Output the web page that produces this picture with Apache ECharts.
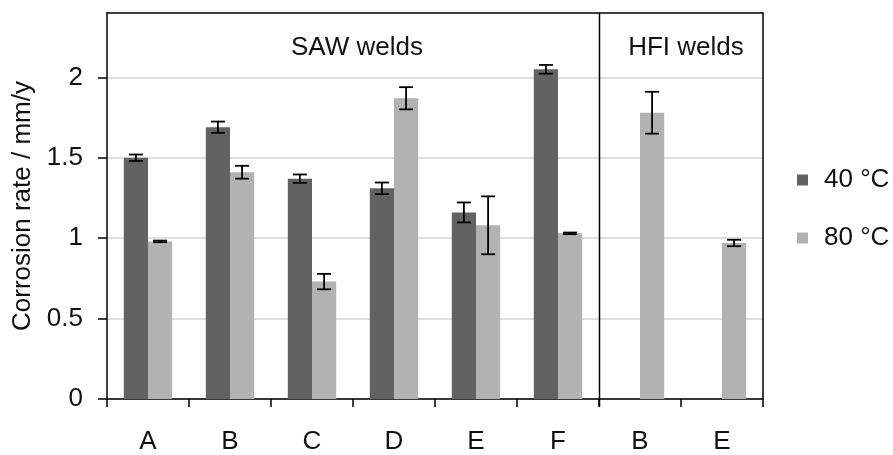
<!DOCTYPE html>
<html>
<head>
<meta charset="utf-8">
<script src="https://cdn.jsdelivr.net/npm/echarts@6/dist/echarts.min.js"></script>
<style>html,body{margin:0;padding:0;background:#fff}#c{width:893px;height:455px}</style>
</head>
<body>
<div id="c"></div>
<script>
// ---- data ----
const categoryKeys = ['SAW-A','SAW-B','SAW-C','SAW-D','SAW-E','SAW-F','HFI-B','HFI-E'];
const tickLabels = ['A','B','C','D','E','F','B','E'];
const series40Name = '40 °C';
const series80Name = '80 °C';
const values40 = [1.50, 1.69, 1.37, 1.31, 1.16, 2.05, null, null];
const errors40 = [0.02, 0.035, 0.026, 0.036, 0.062, 0.027, null, null];
const values80 = [0.98, 1.41, 0.73, 1.87, 1.08, 1.03, 1.78, 0.97];
const errors80 = [0.005, 0.04, 0.048, 0.069, 0.18, 0.005, 0.13, 0.02];
const yTicks = [0, 0.5, 1, 1.5, 2];
const yMax = 2.4;
const groupTitles = ['SAW welds', 'HFI welds'];
const groupStartIndex = [0, 6];
const yAxisName = 'Corrosion rate / mm/y';

// ---- style ----
const FS = 26;
const FONT = '"Liberation Sans", Arial, sans-serif';
const TXT = '#111';
const C40 = '#626262';
const C80 = '#b2b2b2';
const CAT_GAP = 0.41;

const chart = echarts.init(document.getElementById('c'));

function errItem(vals, errs) {
  const out = [];
  vals.forEach((v, i) => { if (v != null && errs[i] != null) out.push([i, v, errs[i]]); });
  return out;
}
function errSeries(name, vals, errs, side) {
  return {
    type: 'custom',
    name: name + ' err',
    data: errItem(vals, errs),
    z: 5,
    silent: true,
    renderItem: function (params, api) {
      const idx = api.value(0), v = api.value(1), e = api.value(2);
      const band = api.size([1, 0])[0];
      const barW = band * (1 - CAT_GAP) / 2;
      const hi = api.coord([idx, v + e]);
      const lo = api.coord([idx, v - e]);
      const x = hi[0] + side * barW / 2;
      const cw = 7;
      const st = { stroke: '#000', lineWidth: 1.8 };
      return {
        type: 'group',
        children: [
          { type: 'line', shape: { x1: x, y1: hi[1], x2: x, y2: lo[1] }, style: st },
          { type: 'line', shape: { x1: x - cw, y1: hi[1], x2: x + cw, y2: hi[1] }, style: st },
          { type: 'line', shape: { x1: x - cw, y1: lo[1], x2: x + cw, y2: lo[1] }, style: st }
        ]
      };
    }
  };
}

// group separator (boundary before the HFI group), drawn through the axis scales
const separatorSeries = {
  type: 'custom',
  name: 'separator',
  data: [[groupStartIndex[1], 0]],
  z: 6,
  silent: true,
  renderItem: function (params, api) {
    const idx = api.value(0);
    const band = api.size([1, 0])[0];
    const p0 = api.coord([idx, 0]);
    const p1 = api.coord([idx, yMax]);
    const x = Math.round(p0[0] - band / 2) + 0.5;
    return { type: 'line', shape: { x1: x, y1: p0[1] + 8, x2: x, y2: p1[1] },
      style: { stroke: '#000', lineWidth: 1.5 } };
  }
};

chart.setOption({
  animation: false,
  backgroundColor: '#fff',
  textStyle: { fontFamily: FONT, color: TXT },
  title: [
    { text: groupTitles[0], left: 352, top: 30, textAlign: 'center',
      textStyle: { fontFamily: FONT, fontSize: FS, fontWeight: 'normal', color: TXT } },
    { text: groupTitles[1], left: 681, top: 30, textAlign: 'center',
      textStyle: { fontFamily: FONT, fontSize: FS, fontWeight: 'normal', color: TXT } }
  ],
  grid: { left: 107, right: 130, top: 13, bottom: 55 },
  legend: {
    orient: 'vertical', left: 792, top: 162, itemGap: 32,
    itemWidth: 11, itemHeight: 11, icon: 'rect',
    data: [series40Name, series80Name],
    textStyle: { fontFamily: FONT, fontSize: FS, color: TXT, padding: [0, 0, 0, 11] }
  },
  xAxis: [{
    type: 'category', data: categoryKeys, boundaryGap: true,
    axisLine: { lineStyle: { color: '#000', width: 1.5 } },
    axisTick: { show: true, length: 8, lineStyle: { color: '#000', width: 1.5 } },
    axisLabel: { margin: 30, fontFamily: FONT, fontSize: FS, color: TXT,
      formatter: (val) => tickLabels[categoryKeys.indexOf(val)] },
    splitLine: { show: false }
  }, {
    type: 'category', data: categoryKeys, position: 'top',
    axisLine: { show: true, onZero: false, lineStyle: { color: '#000', width: 1.5 } },
    axisTick: { show: false }, axisLabel: { show: false }, splitLine: { show: false }
  }],
  yAxis: [{
    type: 'value', min: 0, max: yMax, interval: 0.5,
    name: yAxisName, nameLocation: 'middle', nameGap: 66, nameRotate: 90,
    nameTextStyle: { fontFamily: FONT, fontSize: FS, color: TXT },
    axisLine: { show: true, lineStyle: { color: '#000', width: 1.5 } },
    axisTick: { show: true, length: 9, customValues: yTicks, lineStyle: { color: '#000', width: 1.5 } },
    axisLabel: { margin: 24, fontFamily: FONT, fontSize: FS, color: TXT, customValues: yTicks },
    splitLine: { show: true, lineStyle: { color: '#d4d4d4', width: 1.5 } }
  }, {
    type: 'value', min: 0, max: yMax, position: 'right',
    axisLine: { show: true, onZero: false, lineStyle: { color: '#000', width: 1.5 } },
    axisTick: { show: false }, axisLabel: { show: false }, splitLine: { show: false }
  }],
  series: [
    { type: 'bar', name: series40Name, data: values40, itemStyle: { color: C40 },
      barGap: '0%', barCategoryGap: (CAT_GAP * 100) + '%' },
    { type: 'bar', name: series80Name, data: values80, itemStyle: { color: C80 },
      barGap: '0%', barCategoryGap: (CAT_GAP * 100) + '%' },
    errSeries(series40Name, values40, errors40, -1),
    errSeries(series80Name, values80, errors80, 1),
    separatorSeries
  ]
});
</script>
</body>
</html>
